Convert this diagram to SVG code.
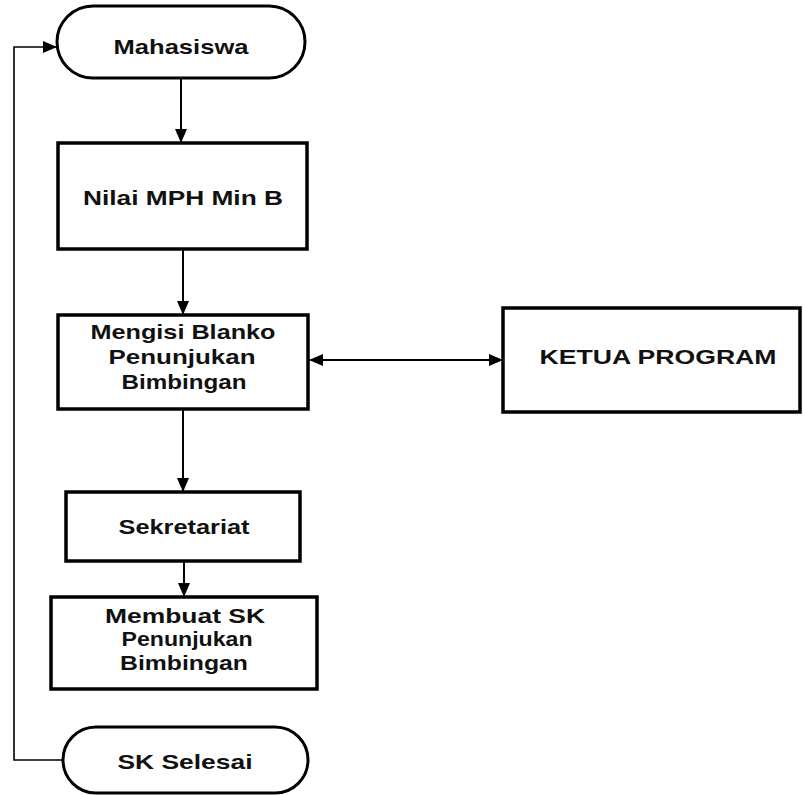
<svg xmlns="http://www.w3.org/2000/svg" width="803" height="795" viewBox="0 0 803 795">
<style>
.box{fill:#fff;stroke:#000;stroke-width:3.5}
.term{fill:#fff;stroke:#000;stroke-width:3}
.t{font-family:"Liberation Sans",Arial,sans-serif;font-weight:bold;font-size:20.5px;fill:#111;text-anchor:middle}
.c{fill:none;stroke:#000;stroke-width:2}
</style>
<defs>
<marker id="ah" viewBox="0 0 14 12" refX="14" refY="6" markerWidth="14" markerHeight="12" markerUnits="userSpaceOnUse" orient="auto-start-reverse">
<path d="M0,0 L14,6 L0,12 Z" fill="#000"/>
</marker>
</defs>
<rect width="803" height="795" fill="#fff"/>
<g id="connectors">
<line class="c" x1="181" y1="78" x2="181" y2="143" marker-end="url(#ah)"/>
<line class="c" x1="183" y1="249" x2="183" y2="315" marker-end="url(#ah)"/>
<line class="c" x1="183" y1="409" x2="183" y2="492" marker-end="url(#ah)"/>
<line class="c" x1="184" y1="561" x2="184" y2="597" marker-end="url(#ah)"/>
<line class="c" x1="309" y1="360" x2="503" y2="360" marker-start="url(#ah)" marker-end="url(#ah)"/>
<polyline class="c" style="stroke-width:1.6" points="63,760 14,760 14,47 57,47" marker-end="url(#ah)"/>
</g>
<g id="mahasiswa">
<rect class="term" x="57" y="6" width="248" height="72" rx="36" ry="36"/>
<text class="t" x="181" y="54" textLength="135" lengthAdjust="spacingAndGlyphs">Mahasiswa</text>
</g>
<g id="nilai">
<rect class="box" x="58" y="143" width="249" height="106"/>
<text class="t" x="183" y="205" textLength="200" lengthAdjust="spacingAndGlyphs">Nilai MPH Min B</text>
</g>
<g id="mengisi">
<rect class="box" x="58" y="315" width="250" height="94"/>
<text class="t" x="183" y="339" textLength="185" lengthAdjust="spacingAndGlyphs">Mengisi Blanko</text>
<text class="t" x="182" y="364" textLength="147" lengthAdjust="spacingAndGlyphs">Penunjukan</text>
<text class="t" x="184" y="389" textLength="125" lengthAdjust="spacingAndGlyphs">Bimbingan</text>
</g>
<g id="ketua">
<rect class="box" x="503" y="308" width="297" height="104"/>
<text class="t" x="658" y="364" textLength="237" lengthAdjust="spacingAndGlyphs">KETUA PROGRAM</text>
</g>
<g id="sekretariat">
<rect class="box" x="66" y="492" width="234" height="69"/>
<text class="t" x="184" y="534" textLength="131" lengthAdjust="spacingAndGlyphs">Sekretariat</text>
</g>
<g id="membuat">
<rect class="box" x="51" y="597" width="266" height="92"/>
<text class="t" x="185" y="623" textLength="160" lengthAdjust="spacingAndGlyphs">Membuat SK</text>
<text class="t" x="187" y="646" textLength="131" lengthAdjust="spacingAndGlyphs">Penunjukan</text>
<text class="t" x="184" y="670" textLength="128" lengthAdjust="spacingAndGlyphs">Bimbingan</text>
</g>
<g id="selesai">
<rect class="term" x="63" y="727" width="245" height="66" rx="33" ry="33"/>
<text class="t" x="185" y="769" textLength="135" lengthAdjust="spacingAndGlyphs">SK Selesai</text>
</g>
</svg>
